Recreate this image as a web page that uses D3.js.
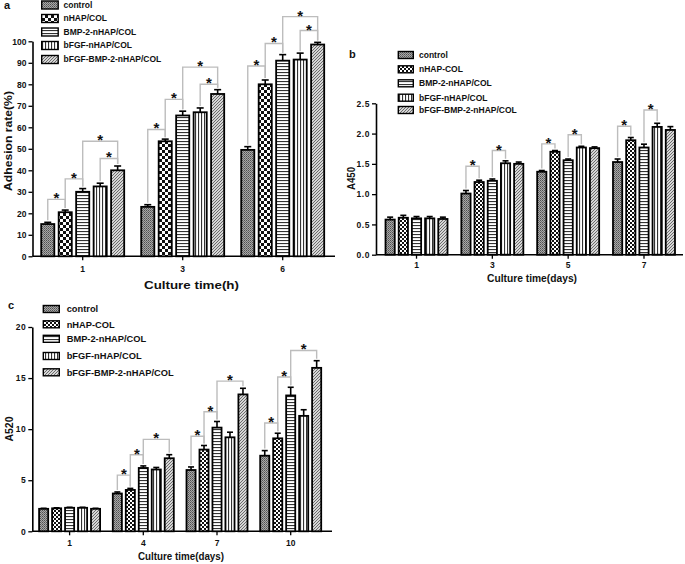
<!DOCTYPE html>
<html><head><meta charset="utf-8">
<script src="https://cdn.jsdelivr.net/npm/d3@7"></script>
<style>body{margin:0;background:#fff}text{font-family:"Liberation Sans",Arial,sans-serif;font-weight:bold}</style>
</head><body><svg id="c" width="685" height="564"></svg>
<script>
// ---------- DATA ----------
const seriesA = ["control","nHAP/COL","BMP-2-nHAP/COL","bFGF-nHAP/COL","bFGF-BMP-2-nHAP/COL"];
const seriesBC = ["control","nHAP-COL","BMP-2-nHAP/COL","bFGF-nHAP/COL","bFGF-BMP-2-nHAP/COL"];

// Panel a: adhesion rate (%)
const catsA = ["1","3","6"];
const aControl = [15, 23, 49.5],  aControlErr = [0.8, 1, 1.5];
const aNHAP    = [20.5, 53.5, 80], aNHAPErr   = [1, 1, 2];
const aBMP     = [30, 65.5, 91],   aBMPErr    = [1.5, 2, 2.8];
const aBFGF    = [32.5, 67, 91.5], aBFGFErr   = [1.5, 2, 3];
const aBoth    = [40, 75.5, 98.5], aBothErr   = [2, 2, 1];
const ticksA = [0,10,20,30,40,50,60,70,80,90,100];
// [category index, left bar, right bar, bracket height]
const bracketsA = [[0,0,1,26.5],[0,1,2,36],[0,2,4,53.5],[0,3,4,45.5],
                   [1,0,1,59],[1,1,2,73],[1,2,4,88],[1,3,4,80],
                   [2,0,1,88.5],[2,1,2,99],[2,2,4,111.5],[2,3,4,105]];

// Panel b: A450
const catsB = ["1","3","5","7"];
const bControl = [0.58, 1.01, 1.37, 1.53], bControlErr = [0.04, 0.05, 0.02, 0.05];
const bNHAP    = [0.61, 1.20, 1.70, 1.89], bNHAPErr    = [0.04, 0.03, 0.02, 0.045];
const bBMP     = [0.60, 1.22, 1.56, 1.77], bBMPErr     = [0.03, 0.03, 0.02, 0.055];
const bBFGF    = [0.60, 1.51, 1.77, 2.11], bBFGFErr    = [0.03, 0.04, 0.02, 0.06];
const bBoth    = [0.59, 1.50, 1.76, 2.06], bBothErr    = [0.03, 0.03, 0.02, 0.055];
const ticksB = [0,0.5,1,1.5,2,2.5];
const bracketsB = [[1,0,1,1.46],[1,2,3,1.72],[2,0,1,1.83],[2,2,3,1.98],[3,0,1,2.12],[3,2,3,2.39]];

// Panel c: A520
const catsC = ["1","4","7","10"];
const cControl = [2.2, 3.7, 6.0, 7.4],    cControlErr = [0.05, 0.15, 0.3, 0.5];
const cNHAP    = [2.25, 4.05, 8.0, 9.1],  cNHAPErr    = [0.05, 0.15, 0.4, 0.5];
const cBMP     = [2.3, 6.2, 10.15, 13.3], cBMPErr     = [0.05, 0.2, 0.6, 0.8];
const cBFGF    = [2.3, 6.05, 9.2, 11.3],  cBFGFErr    = [0.05, 0.2, 0.5, 0.6];
const cBoth    = [2.2, 7.15, 13.4, 16.0], cBothErr    = [0.05, 0.35, 0.6, 0.7];
const ticksC = [0,5,10,15,20];
const bracketsC = [[1,0,1,5.5],[1,1,2,7.5],[1,2,4,9.0],[2,0,1,9.3],[2,1,2,11.7],[2,2,4,14.7],
                   [3,0,1,10.6],[3,1,2,15.1],[3,2,4,17.7]];

// ---------- DRAW ----------
const svg = d3.select("#c");
svg.append("rect").attr("width",685).attr("height",564).attr("fill","#fff");
const defs = svg.append("defs");

function addPatterns(key, cell){
  const mk = (i,w,h) => defs.append("pattern").attr("id",`p${i}${key}`)
      .attr("patternUnits","userSpaceOnUse").attr("width",w).attr("height",h);
  let p = mk(0,2,2);
  p.append("rect").attr("width",2).attr("height",2).attr("fill","#a8a8a8");
  p.append("rect").attr("width",1).attr("height",1).attr("fill","#505050");
  p.append("rect").attr("x",1).attr("y",1).attr("width",1).attr("height",1).attr("fill","#6e6e6e");
  p = mk(1,2*cell,2*cell);
  p.append("rect").attr("width",2*cell).attr("height",2*cell).attr("fill","#fff");
  p.append("rect").attr("width",cell).attr("height",cell).attr("fill","#111");
  p.append("rect").attr("x",cell).attr("y",cell).attr("width",cell).attr("height",cell).attr("fill","#111");
  p = mk(2,3,3);
  p.append("rect").attr("width",3).attr("height",3).attr("fill","#fff");
  p.append("rect").attr("width",3).attr("height",1.1).attr("fill","#333");
  p = mk(3,3,3);
  p.append("rect").attr("width",3).attr("height",3).attr("fill","#fff");
  p.append("rect").attr("width",1.1).attr("height",3).attr("fill","#333");
  p = mk(4,3,3);
  p.append("rect").attr("width",3).attr("height",3).attr("fill","#d6d6d6");
  p.append("path").attr("d","M0,3L3,0M-1,1L1,-1M2,4L4,2").attr("stroke","#606060").attr("stroke-width",0.9);
}

function panel(cfg){
  addPatterns(cfg.key, cfg.cell);
  const g = svg.append("g");
  const y = d3.scaleLinear().domain(cfg.ydom).range([cfg.y0, cfg.y1]);
  const x = d3.scaleBand().domain(cfg.cats).range(cfg.xr);
  const xi = d3.scaleBand().domain(d3.range(5)).range([-cfg.gw/2, cfg.gw/2]).paddingInner(cfg.pad);
  const cx = (ci, s) => x(cfg.cats[ci]) + x.bandwidth()/2 + xi(s) + xi.bandwidth()/2;

  // axes
  const ya = g.append("g").attr("transform",`translate(${cfg.ax},0)`)
    .call(d3.axisLeft(y).tickValues(cfg.ticks).tickSize(4).tickSizeOuter(0).tickFormat(cfg.fmt));
  ya.select(".domain").attr("stroke-width",1.6);
  ya.selectAll(".tick line").attr("stroke-width",1.3);
  ya.selectAll("text").attr("font-size",cfg.tf).attr("fill","#111").attr("x",-6)
    .attr("font-family","Liberation Sans, Arial").attr("font-weight","bold").attr("letter-spacing",cfg.ls);
  const xa = g.append("g").attr("transform",`translate(0,${cfg.y0})`)
    .call(d3.axisBottom(x).tickSize(4).tickSizeOuter(0));
  xa.select(".domain").remove();
  xa.selectAll(".tick line").attr("stroke-width",1.3);
  xa.selectAll("text").attr("font-size",cfg.tf).attr("fill","#111").attr("y",cfg.xty).attr("dy",0)
    .attr("font-family","Liberation Sans, Arial").attr("font-weight","bold");
  g.append("line").attr("x1",cfg.ax).attr("x2",cfg.xEnd).attr("y1",cfg.y0).attr("y2",cfg.y0)
    .attr("stroke","#000").attr("stroke-width",1.6);

  // brackets (behind)
  cfg.brackets.forEach(([ci,i,j,lev])=>{
    const xl = cx(ci,i), xr = cx(ci,j);
    const tl = y(cfg.vals[i][ci] + cfg.errs[i][ci]) - 2;
    const tr = y(cfg.vals[j][ci] + cfg.errs[j][ci]) - 2;
    const yl = y(lev);
    g.append("path").attr("d",`M${xl},${tl}V${yl}H${xr}V${tr}`)
      .attr("fill","none").attr("stroke","#bdbdbd").attr("stroke-width",1.4);
    g.append("text").attr("x",(xl+xr)/2).attr("y",yl+4).attr("text-anchor","middle")
      .attr("font-size",15).attr("fill","#111").text("*");
  });

  // bars
  cfg.vals.forEach((arr,s)=>{
    arr.forEach((v,ci)=>{
      const xc = cx(ci,s), bw = xi.bandwidth();
      const e = cfg.errs[s][ci];
      g.append("line").attr("x1",xc).attr("x2",xc).attr("y1",y(v)).attr("y2",y(v+e))
        .attr("stroke","#000").attr("stroke-width",1.6);
      g.append("line").attr("x1",xc-cfg.capW/2).attr("x2",xc+cfg.capW/2).attr("y1",y(v+e)).attr("y2",y(v+e))
        .attr("stroke","#000").attr("stroke-width",1.6);
      g.append("rect").attr("x",xc-bw/2).attr("y",y(v)).attr("width",bw).attr("height",cfg.y0-y(v))
        .attr("fill",`url(#p${s}${cfg.key})`).attr("stroke","#000").attr("stroke-width",1.8);
    });
  });

  // legend
  cfg.series.forEach((name,s)=>{
    const ry = cfg.legRows[s];
    g.append("rect").attr("x",cfg.legX).attr("y",ry-cfg.legH/2).attr("width",cfg.legW).attr("height",cfg.legH)
      .attr("fill",`url(#p${s}${cfg.key})`).attr("stroke","#000").attr("stroke-width",1.4);
    g.append("text").attr("x",cfg.legTX).attr("y",ry).attr("dy","0.35em").attr("font-size",cfg.legF)
      .attr("fill","#111").text(name);
  });

  // titles
  g.append("text").attr("x",cfg.xtX).attr("y",cfg.xtY).attr("text-anchor","middle").attr("font-size",11)
    .attr("textLength",cfg.xtW).attr("lengthAdjust","spacingAndGlyphs").attr("fill","#111").text(cfg.xTitle);
  g.append("text").attr("transform",`translate(${cfg.ytX},${cfg.ytY}) rotate(-90)`).attr("text-anchor","middle")
    .attr("dy","0.35em").attr("font-size",11).attr("textLength",cfg.ytW).attr("lengthAdjust","spacingAndGlyphs")
    .attr("fill","#111").text(cfg.yTitle);
  g.append("text").attr("x",cfg.lab[0]).attr("y",cfg.lab[1]).attr("font-size",11).attr("fill","#111").text(cfg.label);
}

panel({key:"a", cell:3, series:seriesA, cats:catsA,
  vals:[aControl,aNHAP,aBMP,aBFGF,aBoth], errs:[aControlErr,aNHAPErr,aBMPErr,aBFGFErr,aBothErr],
  brackets:bracketsA, ydom:[0,100], ticks:ticksA, fmt:d3.format("d"),
  ax:32.5, y0:256.3, y1:41.3, xr:[32.7,332.7], gw:83, pad:0.25, xEnd:335, capW:7, tf:8.5, ls:0, xty:15.5,
  legX:41.7, legW:16.5, legH:8, legTX:63.5, legF:8.5, legRows:[5,18.5,32,45.5,59.5],
  xTitle:"Culture time(h)", xtX:191.5, xtY:289, xtW:95,
  yTitle:"Adhesion rate(%)", ytX:8, ytY:141, ytW:100, label:"a", lab:[4,9]});

panel({key:"b", cell:2, series:seriesBC, cats:catsB,
  vals:[bControl,bNHAP,bBMP,bBFGF,bBoth], errs:[bControlErr,bNHAPErr,bBMPErr,bBFGFErr,bBothErr],
  brackets:bracketsB, ydom:[0,2.5], ticks:ticksB, fmt:d3.format(".1f"),
  ax:376, y0:254.7, y1:103.3, xr:[378.6,681.9], gw:62, pad:0.3, xEnd:683, capW:6, tf:8.5, ls:0.6, xty:13,
  legX:398.3, legW:15, legH:7, legTX:419, legF:8.5, legRows:[55,69.3,83.3,97.7,110],
  xTitle:"Culture time(days)", xtX:532, xtY:282, xtW:90,
  yTitle:"A450", ytX:351, ytY:178.5, ytW:23, label:"b", lab:[349,58]});

panel({key:"c", cell:2, series:seriesBC, cats:catsC,
  vals:[cControl,cNHAP,cBMP,cBFGF,cBoth], errs:[cControlErr,cNHAPErr,cBMPErr,cBFGFErr,cBothErr],
  brackets:bracketsC, ydom:[0,20], ticks:ticksC, fmt:d3.format("d"),
  ax:32.3, y0:531.3, y1:327, xr:[32.75,327.55], gw:61, pad:0.3, xEnd:332, capW:6, tf:8.5, ls:0.6, xty:14.5,
  legX:43.3, legW:16, legH:7, legTX:66.7, legF:9.3, legRows:[309,324.3,338.8,356,372.3],
  xTitle:"Culture time(days)", xtX:181, xtY:560, xtW:86,
  yTitle:"A520", ytX:9, ytY:429, ytW:25, label:"c", lab:[8,309]});
</script></body></html>
